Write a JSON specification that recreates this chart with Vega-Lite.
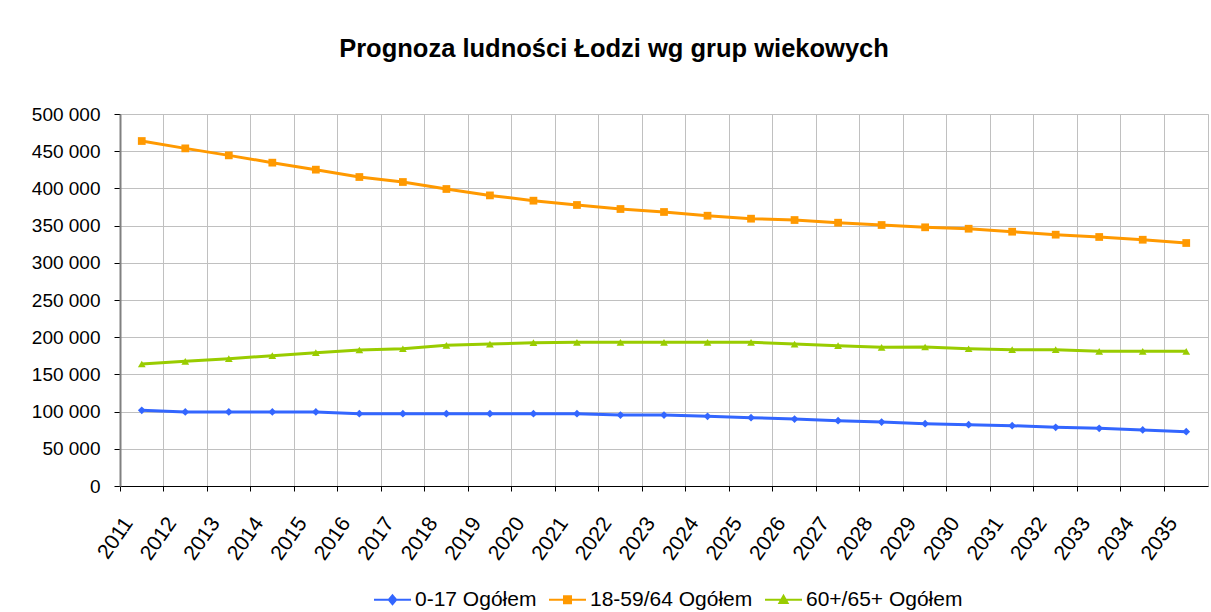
{
  "$schema": "https://vega.github.io/schema/vega-lite/v6.json",
  "autosize": "none",
  "width": 1088,
  "height": 372,
  "padding": {"left": 120, "top": 114, "right": 3, "bottom": 126},
  "background": "white",
  "title": {
    "text": "Prognoza ludności Łodzi wg grup wiekowych",
    "font": "Liberation Sans",
    "fontSize": 25.5,
    "fontWeight": "bold",
    "color": "black",
    "anchor": "middle",
    "offset": 43,
    "dx": -50
  },
  "data": {
    "values": [
      {"rok": "2011", "grupa": "0-17 Ogółem", "wartosc": 101700},
      {"rok": "2012", "grupa": "0-17 Ogółem", "wartosc": 99500},
      {"rok": "2013", "grupa": "0-17 Ogółem", "wartosc": 99500},
      {"rok": "2014", "grupa": "0-17 Ogółem", "wartosc": 99500},
      {"rok": "2015", "grupa": "0-17 Ogółem", "wartosc": 99500},
      {"rok": "2016", "grupa": "0-17 Ogółem", "wartosc": 97200},
      {"rok": "2017", "grupa": "0-17 Ogółem", "wartosc": 97200},
      {"rok": "2018", "grupa": "0-17 Ogółem", "wartosc": 97200},
      {"rok": "2019", "grupa": "0-17 Ogółem", "wartosc": 97200},
      {"rok": "2020", "grupa": "0-17 Ogółem", "wartosc": 97200},
      {"rok": "2021", "grupa": "0-17 Ogółem", "wartosc": 97200},
      {"rok": "2022", "grupa": "0-17 Ogółem", "wartosc": 95400},
      {"rok": "2023", "grupa": "0-17 Ogółem", "wartosc": 95400},
      {"rok": "2024", "grupa": "0-17 Ogółem", "wartosc": 93600},
      {"rok": "2025", "grupa": "0-17 Ogółem", "wartosc": 91800},
      {"rok": "2026", "grupa": "0-17 Ogółem", "wartosc": 90000},
      {"rok": "2027", "grupa": "0-17 Ogółem", "wartosc": 87800},
      {"rok": "2028", "grupa": "0-17 Ogółem", "wartosc": 86000},
      {"rok": "2029", "grupa": "0-17 Ogółem", "wartosc": 83800},
      {"rok": "2030", "grupa": "0-17 Ogółem", "wartosc": 82400},
      {"rok": "2031", "grupa": "0-17 Ogółem", "wartosc": 81000},
      {"rok": "2032", "grupa": "0-17 Ogółem", "wartosc": 78900},
      {"rok": "2033", "grupa": "0-17 Ogółem", "wartosc": 77500},
      {"rok": "2034", "grupa": "0-17 Ogółem", "wartosc": 75300},
      {"rok": "2035", "grupa": "0-17 Ogółem", "wartosc": 73000},
      {"rok": "2011", "grupa": "18-59/64 Ogółem", "wartosc": 463700},
      {"rok": "2012", "grupa": "18-59/64 Ogółem", "wartosc": 453800},
      {"rok": "2013", "grupa": "18-59/64 Ogółem", "wartosc": 444400},
      {"rok": "2014", "grupa": "18-59/64 Ogółem", "wartosc": 434600},
      {"rok": "2015", "grupa": "18-59/64 Ogółem", "wartosc": 425200},
      {"rok": "2016", "grupa": "18-59/64 Ogółem", "wartosc": 415300},
      {"rok": "2017", "grupa": "18-59/64 Ogółem", "wartosc": 408600},
      {"rok": "2018", "grupa": "18-59/64 Ogółem", "wartosc": 399200},
      {"rok": "2019", "grupa": "18-59/64 Ogółem", "wartosc": 390600},
      {"rok": "2020", "grupa": "18-59/64 Ogółem", "wartosc": 383500},
      {"rok": "2021", "grupa": "18-59/64 Ogółem", "wartosc": 377700},
      {"rok": "2022", "grupa": "18-59/64 Ogółem", "wartosc": 372300},
      {"rok": "2023", "grupa": "18-59/64 Ogółem", "wartosc": 368300},
      {"rok": "2024", "grupa": "18-59/64 Ogółem", "wartosc": 363300},
      {"rok": "2025", "grupa": "18-59/64 Ogółem", "wartosc": 359300},
      {"rok": "2026", "grupa": "18-59/64 Ogółem", "wartosc": 357500},
      {"rok": "2027", "grupa": "18-59/64 Ogółem", "wartosc": 353900},
      {"rok": "2028", "grupa": "18-59/64 Ogółem", "wartosc": 350800},
      {"rok": "2029", "grupa": "18-59/64 Ogółem", "wartosc": 347700},
      {"rok": "2030", "grupa": "18-59/64 Ogółem", "wartosc": 345800},
      {"rok": "2031", "grupa": "18-59/64 Ogółem", "wartosc": 341800},
      {"rok": "2032", "grupa": "18-59/64 Ogółem", "wartosc": 337800},
      {"rok": "2033", "grupa": "18-59/64 Ogółem", "wartosc": 334700},
      {"rok": "2034", "grupa": "18-59/64 Ogółem", "wartosc": 331000},
      {"rok": "2035", "grupa": "18-59/64 Ogółem", "wartosc": 326600},
      {"rok": "2011", "grupa": "60+/65+ Ogółem", "wartosc": 164000},
      {"rok": "2012", "grupa": "60+/65+ Ogółem", "wartosc": 167600},
      {"rok": "2013", "grupa": "60+/65+ Ogółem", "wartosc": 171100},
      {"rok": "2014", "grupa": "60+/65+ Ogółem", "wartosc": 175100},
      {"rok": "2015", "grupa": "60+/65+ Ogółem", "wartosc": 179200},
      {"rok": "2016", "grupa": "60+/65+ Ogółem", "wartosc": 182800},
      {"rok": "2017", "grupa": "60+/65+ Ogółem", "wartosc": 184500},
      {"rok": "2018", "grupa": "60+/65+ Ogółem", "wartosc": 189100},
      {"rok": "2019", "grupa": "60+/65+ Ogółem", "wartosc": 190800},
      {"rok": "2020", "grupa": "60+/65+ Ogółem", "wartosc": 192600},
      {"rok": "2021", "grupa": "60+/65+ Ogółem", "wartosc": 193100},
      {"rok": "2022", "grupa": "60+/65+ Ogółem", "wartosc": 193100},
      {"rok": "2023", "grupa": "60+/65+ Ogółem", "wartosc": 193100},
      {"rok": "2024", "grupa": "60+/65+ Ogółem", "wartosc": 193100},
      {"rok": "2025", "grupa": "60+/65+ Ogółem", "wartosc": 193100},
      {"rok": "2026", "grupa": "60+/65+ Ogółem", "wartosc": 190800},
      {"rok": "2027", "grupa": "60+/65+ Ogółem", "wartosc": 188600},
      {"rok": "2028", "grupa": "60+/65+ Ogółem", "wartosc": 186400},
      {"rok": "2029", "grupa": "60+/65+ Ogółem", "wartosc": 186800},
      {"rok": "2030", "grupa": "60+/65+ Ogółem", "wartosc": 184500},
      {"rok": "2031", "grupa": "60+/65+ Ogółem", "wartosc": 183200},
      {"rok": "2032", "grupa": "60+/65+ Ogółem", "wartosc": 183200},
      {"rok": "2033", "grupa": "60+/65+ Ogółem", "wartosc": 181000},
      {"rok": "2034", "grupa": "60+/65+ Ogółem", "wartosc": 181000},
      {"rok": "2035", "grupa": "60+/65+ Ogółem", "wartosc": 181000}
    ]
  },
  "encoding": {
    "x": {
      "field": "rok",
      "type": "ordinal",
      "bandPosition": 0.5,
      "scale": {"type": "band", "paddingInner": 0, "paddingOuter": 0},
      "axis": {
        "title": null,
        "bandPosition": 0,
        "grid": true,
        "gridColor": "#c0c0c0",
        "gridWidth": 1,
        "domainColor": "black",
        "domainWidth": 1,
        "tickColor": "black",
        "tickSize": 5,
        "labelAngle": -55,
        "labelAlign": "right",
        "labelBaseline": "top",
        "labelOffset": -22,
        "labelPadding": 22,
        "labelFont": "Liberation Sans",
        "labelFontSize": 21,
        "labelColor": "black"
      }
    },
    "y": {
      "field": "wartosc",
      "type": "quantitative",
      "scale": {"domain": [0, 500000], "nice": false},
      "axis": {
        "title": null,
        "values": [0, 50000, 100000, 150000, 200000, 250000, 300000, 350000, 400000, 450000, 500000],
        "labelExpr": "replace(format(datum.value, ','), ',', ' ')",
        "grid": true,
        "gridColor": "#c0c0c0",
        "gridWidth": 1,
        "domainColor": "#808080",
        "domainWidth": 2,
        "tickColor": "black",
        "tickSize": 6,
        "labelPadding": 14,
        "labelFont": "Liberation Sans",
        "labelFontSize": 19,
        "labelColor": "black"
      }
    },
    "color": {
      "field": "grupa",
      "type": "nominal",
      "scale": {
        "domain": ["0-17 Ogółem", "18-59/64 Ogółem", "60+/65+ Ogółem"],
        "range": ["#3366ff", "#ff9900", "#99cc00"]
      },
      "legend": {
        "title": null,
        "orient": "none",
        "direction": "horizontal",
        "legendX": 253,
        "legendY": 466,
        "labelFont": "Liberation Sans",
        "labelFontSize": 21,
        "labelColor": "black",
        "labelLimit": 400,
        "labelOffset": 3,
        "columnPadding": 8,
        "symbolSize": 1369,
        "symbolStrokeWidth": 2,
        "encode": {
          "symbols": {
            "update": {
              "shape": {"signal": "datum.value === '0-17 Ogółem' ? 'M-1,0L1,0M0,-0.24L0.2,0L0,0.24L-0.2,0Z' : datum.value === '18-59/64 Ogółem' ? 'M-1,0L1,0M-0.19,-0.19L0.19,-0.19L0.19,0.19L-0.19,0.19Z' : 'M-1,0L1,0M0,-0.22L0.22,0.17L-0.22,0.17Z'"},
              "fill": {"signal": "scale('color', datum.value)"},
              "stroke": {"signal": "scale('color', datum.value)"},
              "strokeWidth": {"value": 2},
              "opacity": {"value": 1}
            }
          }
        }
      }
    }
  },
  "layer": [
    {
      "mark": {"type": "line", "strokeWidth": 3}
    },
    {
      "transform": [{"filter": "datum.grupa === '0-17 Ogółem'"}],
      "mark": {"type": "point", "filled": true, "size": 60, "opacity": 1, "shape": "diamond"}
    },
    {
      "transform": [{"filter": "datum.grupa === '18-59/64 Ogółem'"}],
      "mark": {"type": "point", "filled": true, "size": 60, "opacity": 1, "shape": "square"}
    },
    {
      "transform": [{"filter": "datum.grupa === '60+/65+ Ogółem'"}],
      "mark": {"type": "point", "filled": true, "size": 60, "opacity": 1, "shape": "triangle-up"}
    }
  ],
  "config": {
    "view": {"stroke": "#c0c0c0"},
    "font": "Liberation Sans"
  }
}
